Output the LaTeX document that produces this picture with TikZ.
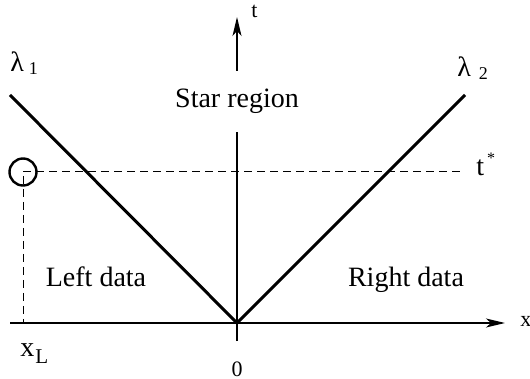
\documentclass[tikz,border=0pt]{standalone}
\usepackage{fontspec}
\setmainfont{Liberation Serif}
\usetikzlibrary{arrows.meta}
\newcommand{\smallfs}{\fontsize{11}{13}\selectfont}
\newcommand{\tinyfs}{\fontsize{8}{9}\selectfont}
\begin{document}
\begin{tikzpicture}[x=0.5pt, y=-0.5pt,
    every node/.style={inner sep=0pt, font=\fontsize{14}{17}\selectfont},
    axis/.style={line width=0.6pt, -{Stealth[length=9.5pt, width=4.5pt, inset=2.5pt]}},
    wave/.style={line width=1.5pt},
    guide/.style={line width=0.5pt, dash pattern=on 4pt off 2.5pt}]
    \path[use as bounding box] (0,0) rectangle (530,379);
    \coordinate (O) at (237,323);
    \coordinate (xs) at (10,323);
    \coordinate (xe) at (505,323);
    \coordinate (ts) at (237,341);
    \coordinate (te) at (237,17);
    \coordinate (L) at (10,95);
    \coordinate (R) at (465,95);
    \coordinate (tend) at (460,172);
    \coordinate (xL) at (23,323);
    \coordinate (Cb) at (23,176);
    \node[circle, draw, line width=1.2pt, minimum size=13.5pt] (C) at (23,172) {};

    % axes
    \draw[axis] (xs) -- (xe);
    \draw[axis] (ts) -- (te);

    % the two waves
    \draw[wave] (L) -- (O) -- (R);

    % t^* and x_L guides
    \draw[guide] (C.center) -- (tend);
    \draw[guide] (Cb) -- (xL);

    % labels
    \node[anchor=base, fill=white, inner xsep=2pt, minimum height=30.5pt] (star) at (237,108) {Star region};
    \node[anchor=base] (left) at (96,286) {Left data};
    \node[anchor=base] (right) at (406,286) {Right data};
    \node[anchor=base west] (l1) at (10,72) {λ\hspace{2.5pt}\raisebox{-1.5pt}{\fontsize{9}{10}\selectfont 1}};
    \node[anchor=base west] (l2) at (457,77) {λ\hspace{4pt}\raisebox{-1.5pt}{\fontsize{9}{10}\selectfont 2}};
    \node[anchor=base west] (tstar) at (476,176) {t\hspace{1.5pt}\raisebox{6pt}{\tinyfs *}};
    \node[anchor=base west, font=\smallfs] (tlab) at (251,18) {t};
    \node[anchor=base west, font=\smallfs] (xlab) at (520,327) {x};
    \node[anchor=base west] (xLlab) at (20,357) {x\hspace{0.5pt}\raisebox{-3.5pt}{\fontsize{10.5}{12}\selectfont L}};
    \node[anchor=base, font=\smallfs] (zero) at (237,376) {0};
\end{tikzpicture}
\end{document}
